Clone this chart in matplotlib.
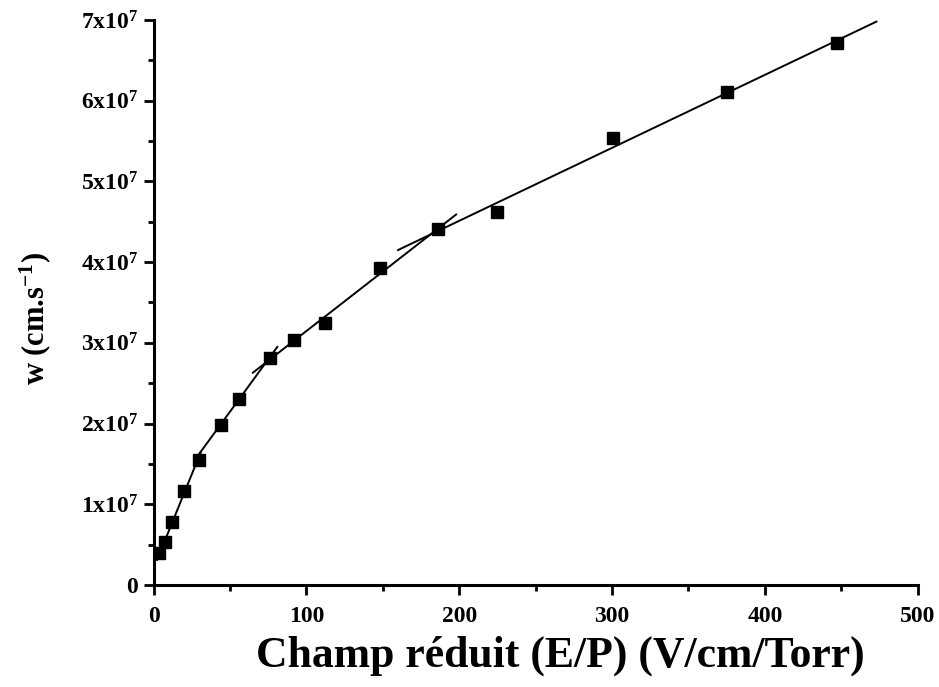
import matplotlib.pyplot as plt
from matplotlib.ticker import FixedLocator, MultipleLocator

plt.rcParams['font.family'] = 'Liberation Serif'
plt.rcParams['font.weight'] = 'bold'
plt.rcParams['mathtext.fontset'] = 'custom'
plt.rcParams['mathtext.rm'] = 'Liberation Serif:bold'
plt.rcParams['mathtext.bf'] = 'Liberation Serif:bold'
plt.rcParams['mathtext.it'] = 'Liberation Serif:bold'

# measured points: reduced field E/P (V/cm/Torr) vs drift velocity w (cm/s)
ep = [3.6, 7.5, 12.1, 20, 29.8, 44.2, 56, 76.2, 92, 112.2, 148.2, 186.2, 224.8, 300.7, 375.3, 447.3]
w = [0.40e7, 0.53e7, 0.78e7, 1.16e7, 1.55e7, 1.98e7, 2.30e7, 2.81e7, 3.04e7,
     3.25e7, 3.93e7, 4.41e7, 4.62e7, 5.54e7, 6.11e7, 6.72e7]

# linear fit segments (start/end in x and y)
fit_x = [(2.3, 31), (27, 81), (65, 198), (160, 473)]
fit_y = [(0.31e7, 1.65e7), (1.55e7, 2.95e7), (2.63e7, 4.59e7), (4.15e7, 6.98e7)]

ytick_vals = [0, 1e7, 2e7, 3e7, 4e7, 5e7, 6e7, 7e7]
ytick_labels = ['0'] + [r'$%dx10^{7}$' % i for i in range(1, 8)]

fig = plt.figure(figsize=(9.39, 6.87), dpi=100)
ax = fig.add_axes([0.1635, 0.1485, 0.8138, 0.8224])

for xs, ys in zip(fit_x, fit_y):
    ax.plot(xs, ys, color='black', lw=1.4)
ax.plot(ep, w, 's', color='black', ms=8.5)

ax.set_xlim(0, 500)
ax.set_ylim(0, 7e7)
ax.xaxis.set_major_locator(MultipleLocator(100))
ax.xaxis.set_minor_locator(MultipleLocator(50))
ax.yaxis.set_major_locator(FixedLocator(ytick_vals))
ax.yaxis.set_minor_locator(MultipleLocator(0.5e7))
ax.set_yticklabels(ytick_labels)

for s in ['top', 'right']:
    ax.spines[s].set_visible(False)
for s in ['left', 'bottom']:
    ax.spines[s].set_linewidth(2.2)

ax.tick_params(which='major', direction='out', length=7, width=2, labelsize=17)
ax.tick_params(axis='x', which='major', pad=8)
ax.tick_params(axis='y', which='major', pad=4)
ax.tick_params(which='minor', direction='out', length=4, width=2)

ax.set_xlabel('Champ réduit (E/P) (V/cm/Torr)', fontsize=31.5, fontweight='bold')
ax.set_ylabel(r'w (cm.s$^{-1}$)', fontsize=22, fontweight='bold')
ax.xaxis.set_label_coords(0.532, -0.09)
ax.yaxis.set_label_coords(-0.131, 0.472)

fig.savefig('out.png', dpi=100)
